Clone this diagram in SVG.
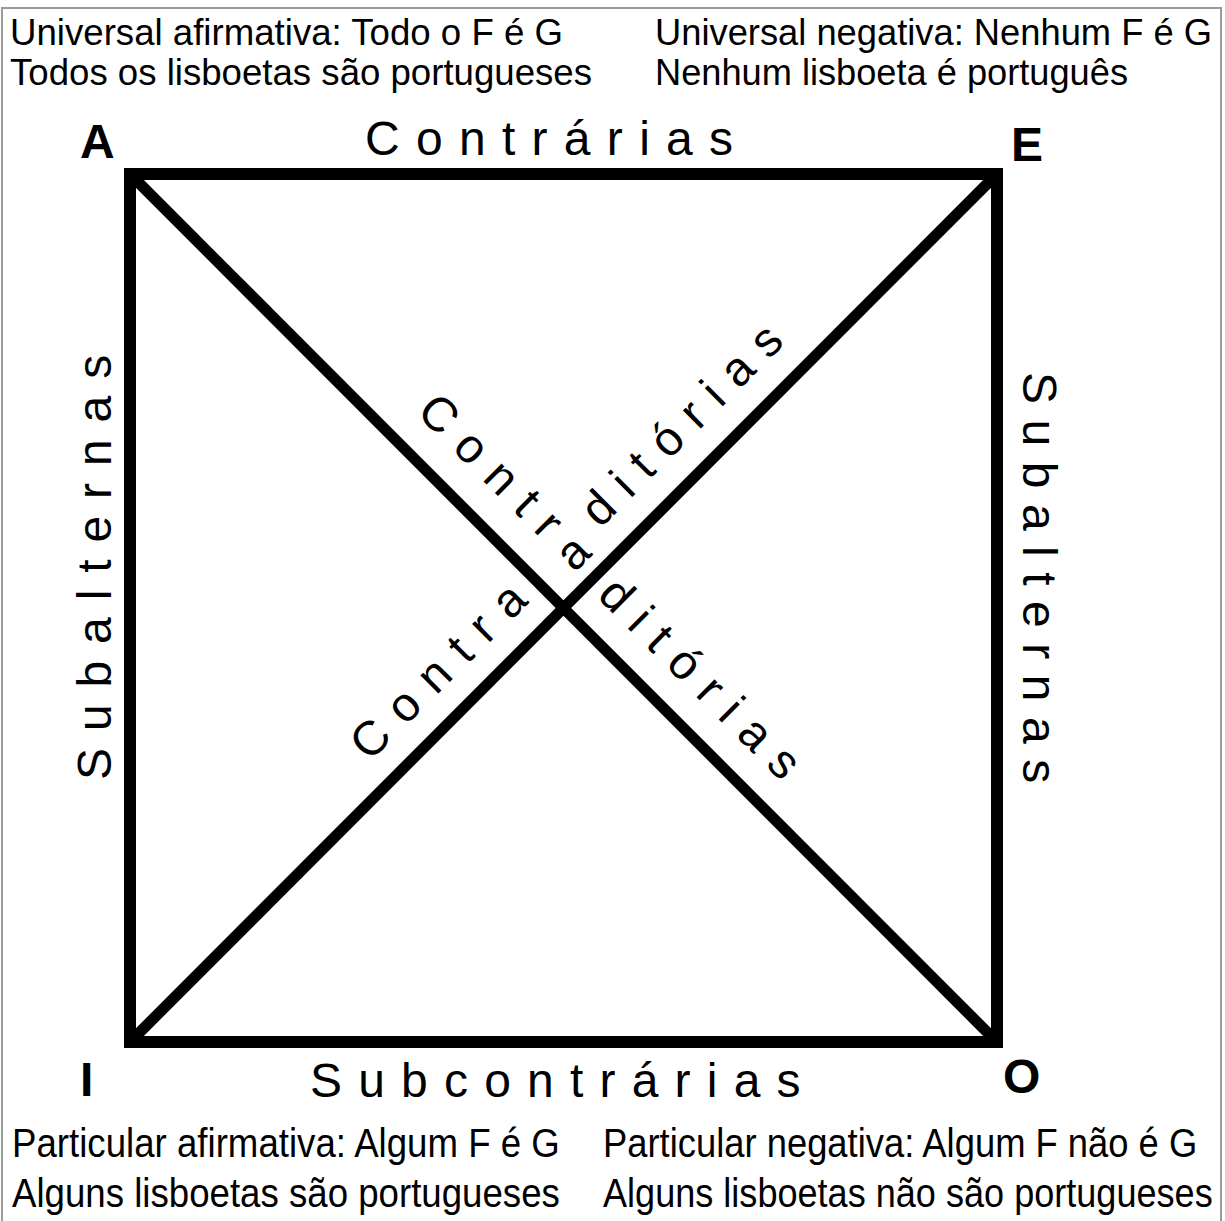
<svg xmlns="http://www.w3.org/2000/svg" width="1225" height="1221" viewBox="0 0 1225 1221">
<style>
text{font-family:"Liberation Sans",Arial,Helvetica,sans-serif;fill:#000}
.cap{font-size:36px}
.bot{font-size:40px}
.big{font-size:48px}
.corner{font-size:48px;font-weight:bold}
.line{stroke:#000;fill:none}
</style>
<rect width="1225" height="1221" fill="#fff"/>
<path d="M2,1221 V8 H1221 V1221" fill="none" stroke="#9a9a9a" stroke-width="2"/>
<g id="connectors">
<rect class="line" x="130" y="174" width="867" height="868" stroke-width="12"/>
<line class="line" x1="130" y1="174" x2="997" y2="1042" stroke-width="11"/>
<line class="line" x1="997" y1="174" x2="130" y2="1042" stroke-width="11"/>
</g>
<g id="node-A">
<text class="corner" x="80" y="158">A</text>
<text class="cap" x="10" y="45" textLength="553" lengthAdjust="spacingAndGlyphs">Universal afirmativa: Todo o F é G</text>
<text class="cap" x="10" y="85" textLength="582" lengthAdjust="spacingAndGlyphs">Todos os lisboetas são portugueses</text>
</g>
<g id="node-E">
<text class="corner" x="1011" y="161">E</text>
<text class="cap" x="655" y="45" textLength="557" lengthAdjust="spacingAndGlyphs">Universal negativa: Nenhum F é G</text>
<text class="cap" x="655" y="85" textLength="473" lengthAdjust="spacingAndGlyphs">Nenhum lisboeta é português</text>
</g>
<g id="node-I">
<text class="corner" x="80" y="1096">I</text>
<g transform="translate(12,0) scale(0.91,1)">
<text class="bot" x="0" y="1157" textLength="602" lengthAdjust="spacingAndGlyphs">Particular afirmativa: Algum F é G</text>
<text class="bot" x="0" y="1207" textLength="602" lengthAdjust="spacingAndGlyphs">Alguns lisboetas são portugueses</text>
</g>
</g>
<g id="node-O">
<text class="corner" x="1003" y="1093">O</text>
<g transform="translate(603,0) scale(0.91,1)">
<text class="bot" x="0" y="1157" textLength="653" lengthAdjust="spacingAndGlyphs">Particular negativa: Algum F não é G</text>
<text class="bot" x="0" y="1207" textLength="670" lengthAdjust="spacingAndGlyphs">Alguns lisboetas não são portugueses</text>
</g>
</g>
<g id="labels">
<text class="big" x="365" y="155" letter-spacing="16.3">Contrárias</text>
<text class="big" x="310" y="1097" letter-spacing="16.2">Subcontrárias</text>
<text class="big" transform="translate(111,780) rotate(-90)" letter-spacing="16.9">Subalternas</text>
<text class="big" transform="translate(1023,372) rotate(90)" letter-spacing="15.5">Subalternas</text>
<g transform="translate(563.5,608) rotate(45)">
<text class="big" x="-242.6" y="-33" letter-spacing="16">Contr</text>
<text class="big" x="15" y="-31" letter-spacing="15.4">ditórias</text>
</g>
<g transform="translate(563.5,608) rotate(-45)">
<text class="big" x="81.8" y="-30" letter-spacing="15.4">ditórias</text>
<text class="big" x="-246.5" y="-28" letter-spacing="16.5">Contra</text>
<text class="big" x="45.6" y="-16.8" text-anchor="middle">a</text>
</g>
</g>
</svg>
